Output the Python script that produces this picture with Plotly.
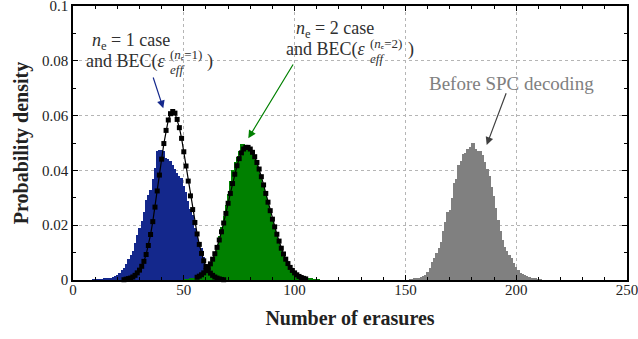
import plotly.graph_objects as go

# ---------------- data ----------------
blue_x = list(range(9, 69))
blue_y = [0.0001, 0.0002, 0.0002, 0.0003, 0.0003, 0.0004, 0.0005, 0.0007, 0.0009, 0.0011,
          0.0014, 0.0020, 0.0027, 0.0036, 0.0045, 0.0060, 0.0075, 0.0090, 0.0105, 0.0135,
          0.0166, 0.0190, 0.0215, 0.0250, 0.0293, 0.0310, 0.0330, 0.0370, 0.0410, 0.0470,
          0.0475, 0.0475, 0.0469, 0.0445, 0.0440, 0.0433, 0.0420, 0.0405, 0.0390, 0.0380,
          0.0372, 0.0342, 0.0320, 0.0290, 0.0260, 0.0239, 0.0190, 0.0160, 0.0140, 0.0115,
          0.0085, 0.0060, 0.0040, 0.0025, 0.0015, 0.0010, 0.0006, 0.0004, 0.0002, 0.0001]

green_x = list(range(50, 112))
green_y = [0.0001, 0.0002, 0.0003, 0.0004, 0.0005, 0.0007, 0.0009, 0.0011, 0.0014, 0.0020,
           0.0030, 0.0045, 0.0062, 0.0078, 0.0095, 0.0125, 0.0160, 0.0195, 0.0235, 0.0275,
           0.0315, 0.0360, 0.0400, 0.0430, 0.0450, 0.0470, 0.0497, 0.0495, 0.0488, 0.0485,
           0.0480, 0.0468, 0.0452, 0.0432, 0.0408, 0.0380, 0.0350, 0.0318, 0.0287, 0.0256,
           0.0225, 0.0197, 0.0170, 0.0145, 0.0122, 0.0101, 0.0083, 0.0067, 0.0053, 0.0042,
           0.0033, 0.0025, 0.0019, 0.0014, 0.0011, 0.0008, 0.0006, 0.0005, 0.0004, 0.0003,
           0.0002, 0.0001]

gray_x = list(range(152, 212))
gray_y = [0.0002, 0.0003, 0.0004, 0.0005, 0.0007, 0.0010, 0.0014, 0.0020, 0.0028, 0.0045,
          0.0065, 0.0080, 0.0098, 0.0118, 0.0140, 0.0180, 0.0210, 0.0248, 0.0257, 0.0300,
          0.0355, 0.0370, 0.0420, 0.0435, 0.0460, 0.0465, 0.0478, 0.0485, 0.0499, 0.0499,
          0.0478, 0.0472, 0.0469, 0.0455, 0.0430, 0.0405, 0.0378, 0.0340, 0.0305, 0.0262,
          0.0220, 0.0180, 0.0145, 0.0122, 0.0105, 0.0090, 0.0080, 0.0063, 0.0047, 0.0035,
          0.0027, 0.0021, 0.0017, 0.0013, 0.0010, 0.0008, 0.0006, 0.0004, 0.0003, 0.0001]

bec1_x = list(range(23, 69))
bec1_y = [0.0001, 0.0003, 0.0005, 0.0007, 0.0011, 0.0017, 0.0026, 0.0036, 0.0050, 0.0068,
          0.0093, 0.0126, 0.0166, 0.0213, 0.0266, 0.0325, 0.0383, 0.0441, 0.0498, 0.0546,
          0.0584, 0.0607, 0.0615, 0.0609, 0.0586, 0.0556, 0.0517, 0.0468, 0.0416, 0.0361,
          0.0307, 0.0257, 0.0210, 0.0168, 0.0130, 0.0097, 0.0070, 0.0049, 0.0036, 0.0025,
          0.0017, 0.0011, 0.0007, 0.0004, 0.0002, 0.0001]

bec2_x = list(range(56, 106))
bec2_y = [0.0010, 0.0014, 0.0019, 0.0026, 0.0034, 0.0046, 0.0059, 0.0076, 0.0096, 0.0119,
          0.0146, 0.0176, 0.0208, 0.0243, 0.0280, 0.0316, 0.0352, 0.0386, 0.0417, 0.0443,
          0.0464, 0.0478, 0.0484, 0.0484, 0.0478, 0.0466, 0.0450, 0.0429, 0.0405, 0.0377,
          0.0347, 0.0316, 0.0284, 0.0253, 0.0222, 0.0194, 0.0167, 0.0142, 0.0116, 0.0095,
          0.0076, 0.0060, 0.0046, 0.0035, 0.0026, 0.0019, 0.0013, 0.0009, 0.0006, 0.0004]

x_ticks = [0, 50, 100, 150, 200, 250]
y_ticks = [0, 0.02, 0.04, 0.06, 0.08, 0.1]
y_tick_text = ["0", "0.02", "0.04", "0.06", "0.08", "0.1"]

BLUE = "#14288c"
GREEN = "#008000"
GRAY = "#808080"
SERIF = "Liberation Serif, 'Times New Roman', Times, serif"

# ---------------- figure ----------------
fig = go.Figure()
fig.add_trace(go.Bar(x=blue_x, y=blue_y, width=1, marker=dict(color=BLUE, line=dict(width=0)),
                     name="n_e=1 histogram"))
fig.add_trace(go.Bar(x=green_x, y=green_y, width=1, marker=dict(color=GREEN, line=dict(width=0)),
                     name="n_e=2 histogram"))
fig.add_trace(go.Bar(x=gray_x, y=gray_y, width=1, marker=dict(color=GRAY, line=dict(width=0)),
                     name="Before SPC decoding"))
for xs, ys in ((bec1_x, bec1_y), (bec2_x, bec2_y)):
    fig.add_trace(go.Scatter(x=xs, y=ys, mode="lines+markers",
                             line=dict(color="black", width=1.2),
                             marker=dict(symbol="square", size=5, color="black"),
                             cliponaxis=False))

W, H = 638, 339
L, R, T, B = 73, 11, 6, 59
PW, PH = W - L - R, H - T - B


def P(px, py):
    return (px - L) / PW, (H - B - py) / PH


TXT = "#303030"
anns = []


def txt(text, px, py, size=18, color=TXT, xanchor="left"):
    x, y = P(px, py)
    anns.append(dict(text=text, x=x, y=y, xref="x domain", yref="y domain", showarrow=False,
                     xanchor=xanchor, yanchor="middle",
                     font=dict(family=SERIF, size=size, color=color)))


def arrow(tail, head, color):
    hx, hy = P(*head)
    tx, ty = P(*tail)
    anns.append(dict(text="", x=hx, y=hy, ax=tx, ay=ty, xref="x domain", yref="y domain",
                     axref="x domain", ayref="y domain", showarrow=True, arrowhead=2,
                     arrowsize=1.3, arrowwidth=1.2, arrowcolor=color))


# n_e = 1 label
txt("<i>n</i><sub>e</sub> = 1 case", 90, 41)
txt("and BEC(<i>ε</i>", 168, 61, xanchor="right")
txt("(<i>n</i>ₑ=1)", 168, 54, size=13)
txt("<i>eff</i>", 168, 69.5, size=13)
txt(")", 205, 61)
arrow((152.7, 76), (163.3, 108.3), BLUE)

# n_e = 2 label
txt("<i>n</i><sub>e</sub> = 2 case", 294, 29.5)
txt("and BEC(<i>ε</i>", 368, 49.5, xanchor="right")
txt("(<i>n</i>ₑ=2)", 368, 43, size=13)
txt("<i>eff</i>", 368, 58, size=13)
txt(")", 406, 49.5)
arrow((294, 63), (248.3, 138.3), GREEN)

# before SPC label
txt("Before SPC decoding", 511, 83, size=19, color=GRAY, xanchor="center")
arrow((506.7, 91.7), (486.7, 145), "#404040")

axis_common = dict(showline=True, linecolor="black", linewidth=1.5, mirror="ticks",
                   ticks="inside", ticklen=5, tickwidth=1, tickcolor="black",
                   showgrid=True, gridcolor="#b5b5b5", griddash="dot", gridwidth=1,
                   zeroline=False, tickfont=dict(family=SERIF, size=15, color="#222"),
                   automargin=False, ticklabeloverflow="allow")

fig.update_layout(
    width=W, height=H,
    margin=dict(l=L, r=R, t=T, b=B),
    paper_bgcolor="white", plot_bgcolor="white",
    barmode="overlay", bargap=0, showlegend=False,
    font=dict(family=SERIF),
    annotations=anns,
    xaxis=dict(range=[0, 250], tickvals=x_ticks, ticklabelstandoff=-5,
               minor=dict(ticks="inside", ticklen=3, dtick=10, tick0=0, tickcolor="black",
                          showgrid=False),
               title=dict(text="<b>Number of erasures</b>", standoff=14,
                          font=dict(family=SERIF, size=20, color="#222")),
               **axis_common),
    yaxis=dict(range=[0, 0.1], tickvals=y_ticks, ticktext=y_tick_text,
               minor=dict(ticks="inside", ticklen=3, dtick=0.01, tick0=0, tickcolor="black",
                          showgrid=False),
               title=dict(text="<b>Probability density</b>", standoff=8,
                          font=dict(family=SERIF, size=20, color="#222")),
               **axis_common),
)

fig.write_html("out.html")
